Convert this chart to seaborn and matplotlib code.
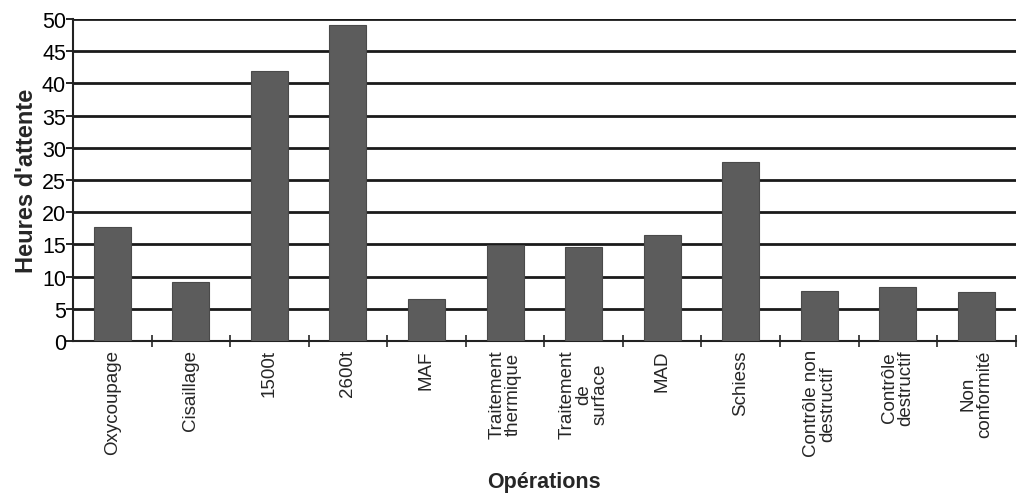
import matplotlib
matplotlib.use("Agg")
import matplotlib.pyplot as plt
import seaborn as sns
import pandas as pd
import numpy as np

# valeurs
operations = ["Oxycoupage", "Cisaillage", "1500t", "2600t", "MAF",
              "Traitement\nthermique", "Traitement\nde\nsurface", "MAD",
              "Schiess", "Contrôle non\ndestructif", "Contrôle\ndestructif",
              "Non\nconformité"]
heures = [17.7, 9.2, 41.9, 49.1, 6.5, 14.9, 14.6, 16.5, 27.8, 7.8, 8.4, 7.6]
yticks = [0, 5, 10, 15, 20, 25, 30, 35, 40, 45, 50]

df = pd.DataFrame({"operation": operations, "heures": heures})

sns.set_style("white")
plt.rcParams['font.family'] = ['Liberation Sans', 'DejaVu Sans']

fig = plt.figure(figsize=(10.18, 5.02), dpi=100)
ax = fig.add_axes([0.0717, 0.319, 0.926, 0.641])

sns.barplot(data=df, x="operation", y="heures", color="#5c5c5c",
            saturation=1, width=0.47, edgecolor="#4a4a4a", linewidth=0.8,
            ax=ax, zorder=3)

ax.set_ylim(0, 50)
ax.set_xlim(-0.5, len(operations) - 0.5)
ax.set_yticks(yticks)
ax.tick_params(axis="y", labelsize=15.5, length=5, width=1.2, direction="out",
               pad=0, left=True, colors="black")
for y in yticks[1:]:
    ax.axhline(y, color="#1a1a1a", lw=2, zorder=1)

# étiquettes au centre, petits traits entre les catégories
ax.set_xticks(range(len(operations)))
ax.set_xticklabels(operations, rotation=90, fontsize=13.5, va="top",
                   ha="center", multialignment="center", linespacing=0.95)
ax.tick_params(axis="x", which="major", length=0, pad=6)
ax.set_xticks(np.arange(0.5, len(operations), 1), minor=True)
ax.tick_params(axis="x", which="minor", length=8, width=1.2,
               direction="inout", bottom=True)

for s in ["top", "right"]:
    ax.spines[s].set_visible(False)
ax.spines["left"].set_linewidth(1.5)
ax.spines["bottom"].set_linewidth(1.5)
ax.spines["left"].set_color("#222222")
ax.spines["bottom"].set_color("#222222")

ax.set_ylabel("Heures d'attente", fontsize=17, fontweight="bold", labelpad=3)
ax.set_xlabel("Opérations", fontsize=15.5, fontweight="bold")
ax.xaxis.set_label_coords(0.5, -0.405)

fig.savefig("out.png", dpi=100)
